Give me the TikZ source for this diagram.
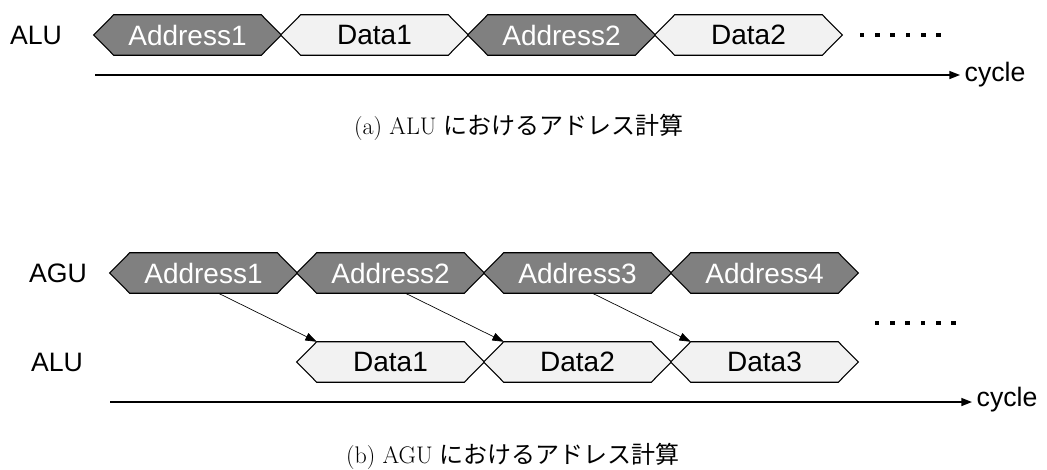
\documentclass[tikz,border=0pt]{standalone}
\usepackage{fontspec}
\newfontfamily\labelfont{Liberation Sans}
\newfontfamily\jpfont{Noto Sans CJK JP}
\usetikzlibrary{calc,arrows.meta}
\pgfdeclarelayer{background}
\pgfsetlayers{background,main}
\definecolor{addrfill}{HTML}{808080}
\definecolor{datafill}{HTML}{F2F2F2}
\tikzset{
  cell/.style={inner sep=0pt, minimum width=140.25pt, minimum height=30pt,
    font=\labelfont\fontsize{21}{25}\selectfont},
  addrcell/.style={cell, text=white},
  datacell/.style={cell, text=black},
  addrhex/.style={draw=black, line width=0.8pt, fill=addrfill},
  datahex/.style={draw=black, line width=0.8pt, fill=datafill},
  unitlabel/.style={font=\labelfont\fontsize{20}{24}\selectfont},
  timeaxis/.style={line width=1.1pt, -{Triangle[length=8pt,width=6pt]}},
  feed/.style={line width=0.5pt, -{Triangle[length=8.5pt,width=6pt]}},
  caption/.style={font=\fontsize{18}{22}\selectfont},
  dotmark/.style={fill=black},
}
% hexagonal bus-cycle outline around a cell node
\newcommand\hexcell[2]{%
  \draw[#2] (#1.west) -- ($(#1.north west)+(20,0)$) -- ($(#1.north east)+(-20,0)$)
    -- (#1.east) -- ($(#1.south east)+(-20,0)$) -- ($(#1.south west)+(20,0)$) -- cycle;}
\begin{document}
\begin{tikzpicture}[x=0.75pt,y=-0.75pt]
\path[use as bounding box] (0,0) rectangle (1047,469);

% ---------- (a) address computed in the ALU ----------
\node[unitlabel] (aluA) at (36,35) {ALU};
\node[addrcell] (tA1) at (187.5,35) {Address1};
\node[datacell] (tD1) at (374.5,35) {Data1};
\node[addrcell] (tA2) at (561.5,35) {Address2};
\node[datacell] (tD2) at (748.5,35) {Data2};
\begin{pgfonlayer}{background}
  \hexcell{tA1}{addrhex}
  \hexcell{tD1}{datahex}
  \hexcell{tA2}{addrhex}
  \hexcell{tD2}{datahex}
\end{pgfonlayer}
\foreach \i in {0,...,5}
  \fill[dotmark] ($(862,35)+(\i*15.3,0)$) +(-2.3,-2.3) rectangle +(2.3,2.3);

\coordinate (axisAstart) at (95,75);
\node[unitlabel, anchor=west] (cycA) at (960,75) {cycle};
\draw[timeaxis] (axisAstart) -- (cycA.west);

\node[caption] (capA) at (519,127) {(a) ALU {\jpfont におけるアドレス計算}};

% ---------- (b) address computed in the AGU ----------
\node[unitlabel] (agu) at (58,273) {AGU};
\node[unitlabel] (aluB) at (57,362) {ALU};

\node[addrcell] (bA1) at (203.5,273) {Address1};
\node[addrcell] (bA2) at (390.5,273) {Address2};
\node[addrcell] (bA3) at (577.5,273) {Address3};
\node[addrcell] (bA4) at (764.5,273) {Address4};
\node[datacell] (bD1) at (390.5,362) {Data1};
\node[datacell] (bD2) at (577.5,362) {Data2};
\node[datacell] (bD3) at (764.5,362) {Data3};
\begin{pgfonlayer}{background}
  \hexcell{bA1}{addrhex}
  \hexcell{bA2}{addrhex}
  \hexcell{bA3}{addrhex}
  \hexcell{bA4}{addrhex}
  \hexcell{bD1}{datahex}
  \hexcell{bD2}{datahex}
  \hexcell{bD3}{datahex}
\end{pgfonlayer}

\foreach \a/\d in {bA1/bD1, bA2/bD2, bA3/bD3}
  \draw[feed] ($(\a.south west)!0.58!(\a.south east)$) -- ($(\d.north west)+(20,0)$);

\foreach \i in {0,...,5}
  \fill[dotmark] ($(877,323)+(\i*15.3,0)$) +(-2.3,-2.3) rectangle +(2.3,2.3);

\coordinate (axisBstart) at (110,402);
\node[unitlabel, anchor=west] (cycB) at (972,400) {cycle};
\draw[timeaxis] (axisBstart) -- (cycB.west |- axisBstart);

\node[caption] (capB) at (513,456) {(b) AGU {\jpfont におけるアドレス計算}};
\end{tikzpicture}
\end{document}
